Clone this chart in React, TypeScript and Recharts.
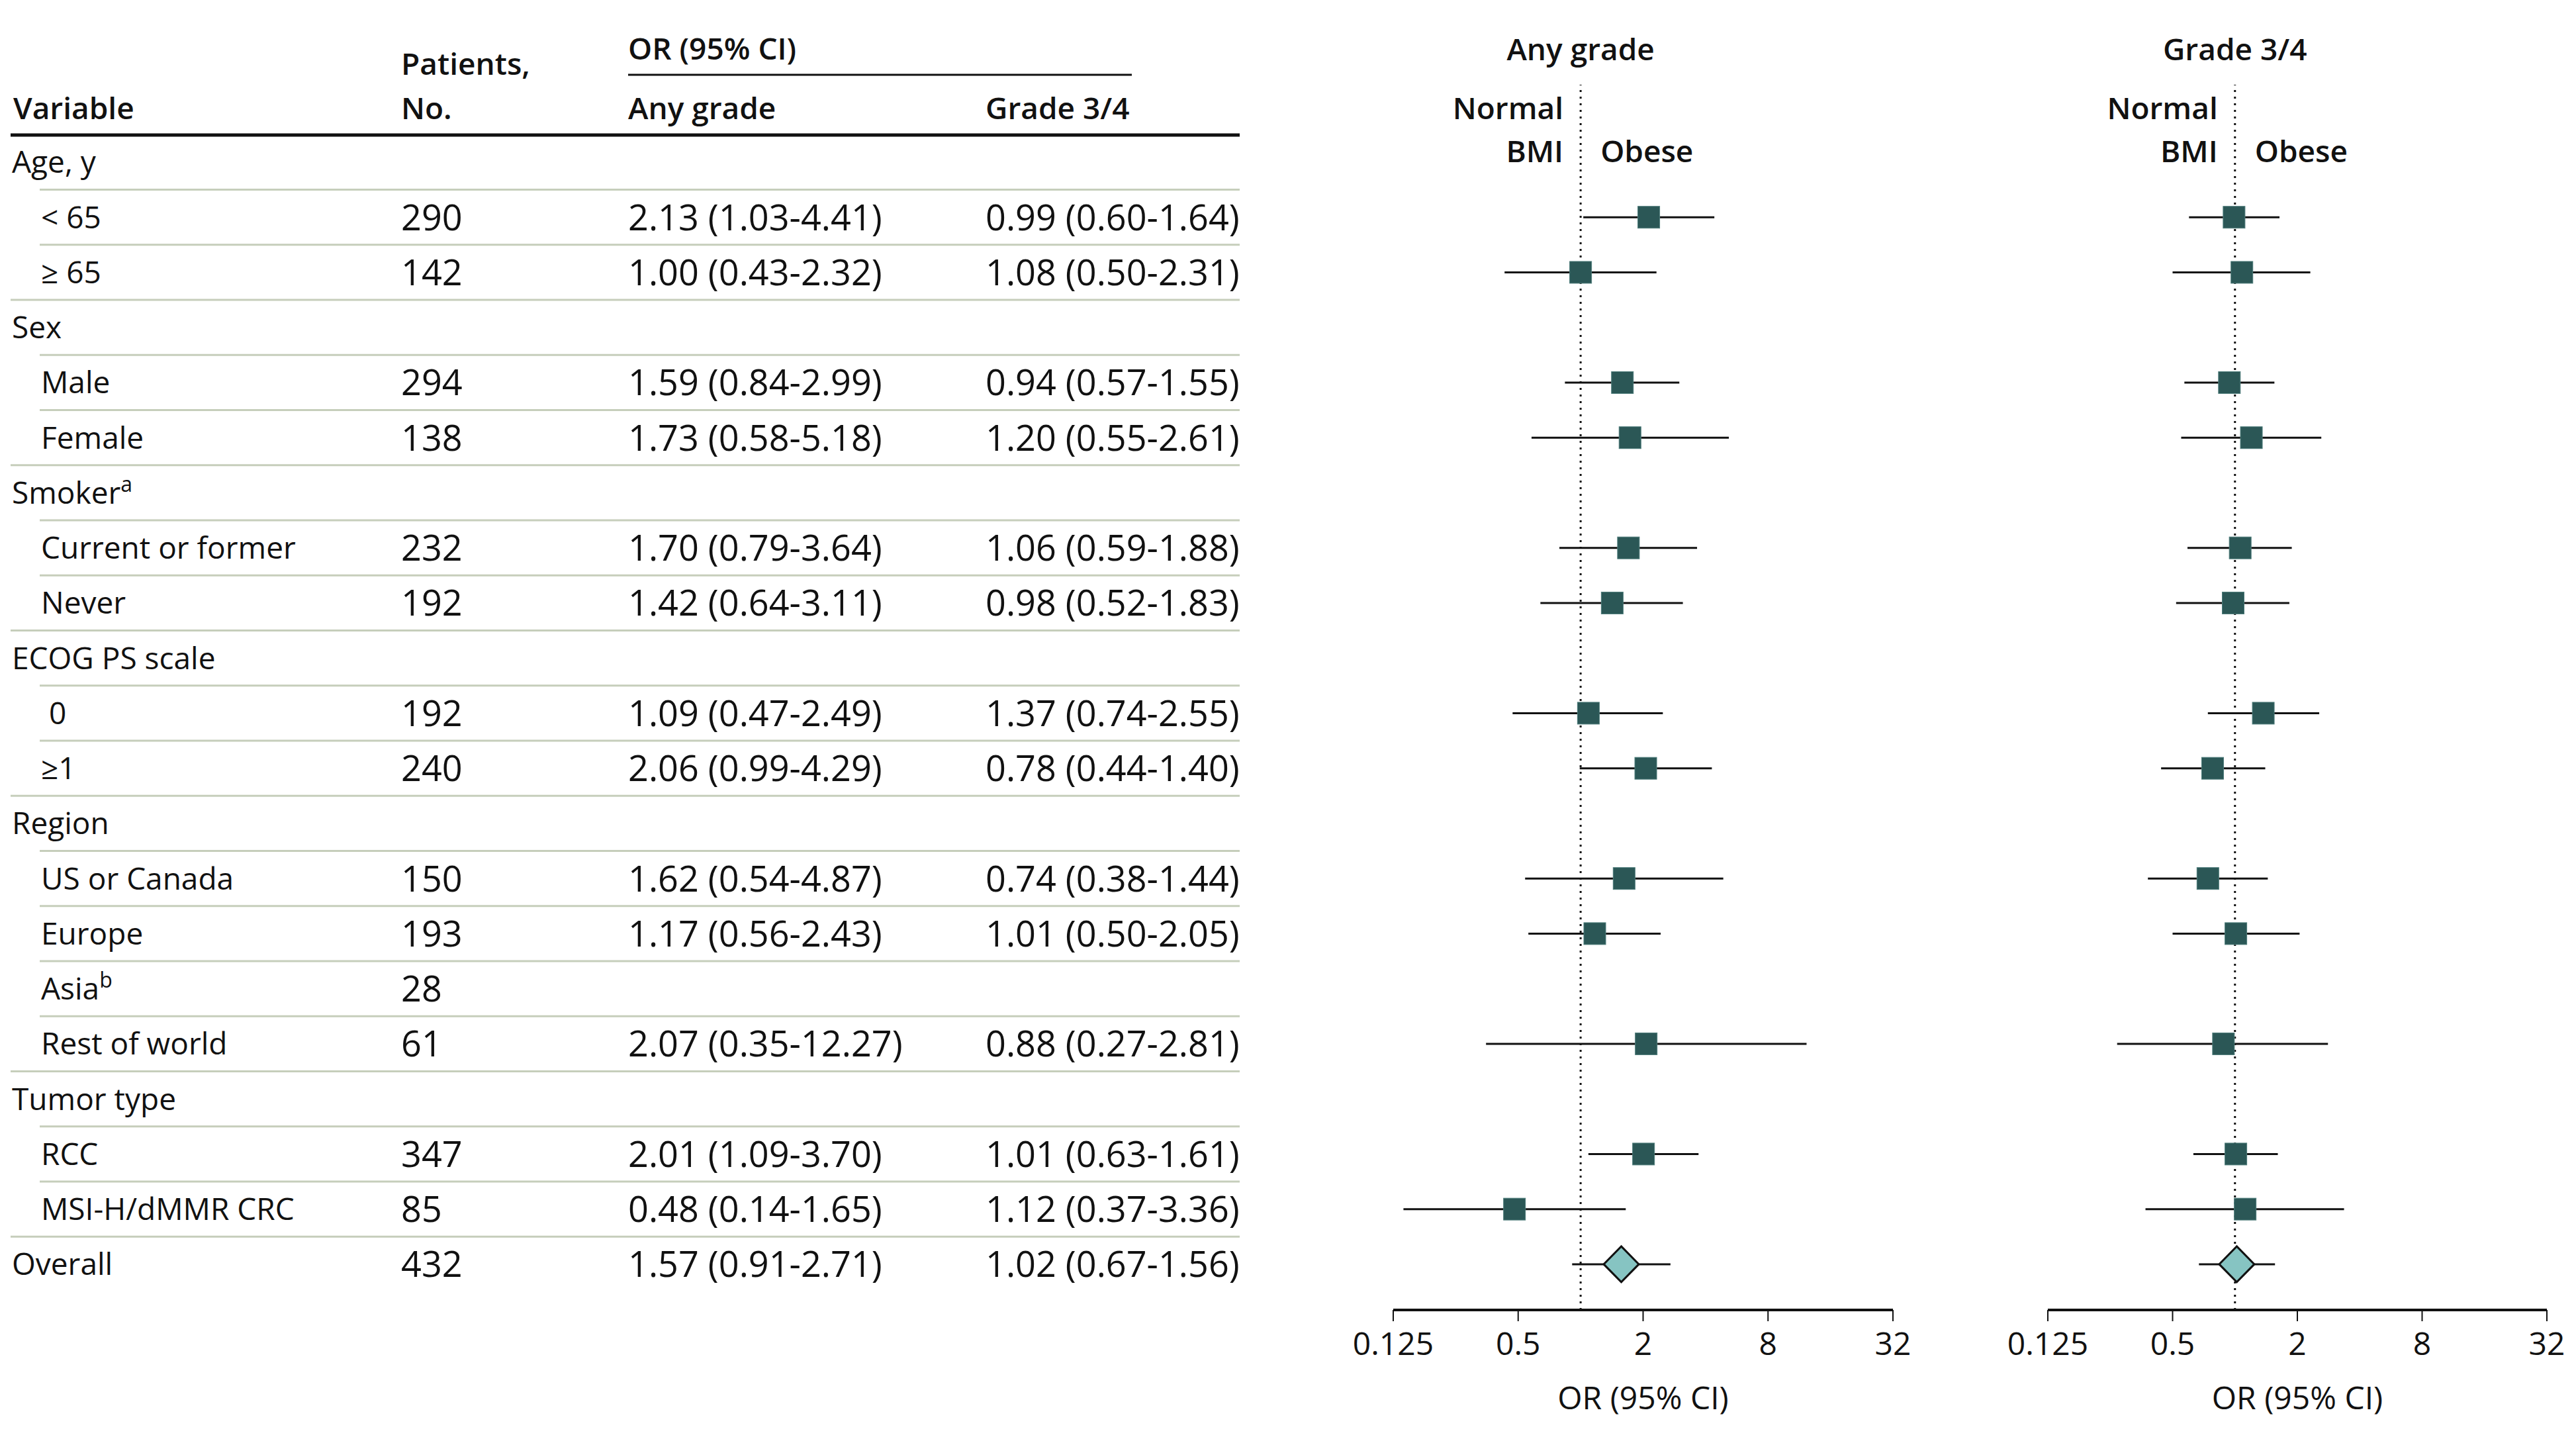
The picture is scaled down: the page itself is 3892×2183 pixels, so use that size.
import React from 'react';
import { ScatterChart, Scatter, XAxis, YAxis, ErrorBar, ReferenceLine } from 'recharts';

// table rows, top to bottom
const rowLabels = ['Age, y', '< 65', '≥ 65', 'Sex', 'Male', 'Female', 'Smoker', 'Current or former', 'Never', 'ECOG PS scale', ' 0', '≥1', 'Region', 'US or Canada', 'Europe', 'Asia', 'Rest of world', 'Tumor type', 'RCC', 'MSI-H/dMMR CRC', 'Overall'];
const rowKinds = ['group', 'item', 'item', 'group', 'item', 'item', 'group', 'item', 'item', 'group', 'item', 'item', 'group', 'item', 'item', 'item', 'item', 'group', 'item', 'item', 'total'];
const footnotes: Record<string, string> = { Smoker: 'a', Asia: 'b' };
const patients = [null, 290, 142, null, 294, 138, null, 232, 192, null, 192, 240, null, 150, 193, 28, 61, null, 347, 85, 432];

// any grade OR (95% CI)
const anyOR = [null, 2.13, 1.0, null, 1.59, 1.73, null, 1.7, 1.42, null, 1.09, 2.06, null, 1.62, 1.17, null, 2.07, null, 2.01, 0.48, 1.57];
const anyLow = [null, 1.03, 0.43, null, 0.84, 0.58, null, 0.79, 0.64, null, 0.47, 0.99, null, 0.54, 0.56, null, 0.35, null, 1.09, 0.14, 0.91];
const anyHigh = [null, 4.41, 2.32, null, 2.99, 5.18, null, 3.64, 3.11, null, 2.49, 4.29, null, 4.87, 2.43, null, 12.27, null, 3.7, 1.65, 2.71];

// grade 3/4 OR (95% CI)
const g34OR = [null, 0.99, 1.08, null, 0.94, 1.2, null, 1.06, 0.98, null, 1.37, 0.78, null, 0.74, 1.01, null, 0.88, null, 1.01, 1.12, 1.02];
const g34Low = [null, 0.6, 0.5, null, 0.57, 0.55, null, 0.59, 0.52, null, 0.74, 0.44, null, 0.38, 0.5, null, 0.27, null, 0.63, 0.37, 0.67];
const g34High = [null, 1.64, 2.31, null, 1.55, 2.61, null, 1.88, 1.83, null, 2.55, 1.4, null, 1.44, 2.05, null, 2.81, null, 1.61, 3.36, 1.56];

const xTicks = [0.125, 0.5, 2, 8, 32];

const FONT = "'Open Sans', 'Noto Sans', sans-serif";
const W = 3892;
const H = 2183;
const PLOT_TOP = 128;
const AXIS_Y = 1979;
const Y_DOMAIN: [number, number] = [-1.405, 20.83];
const HALF_ROW = 41.6;

const fmt = (v: number) => v.toFixed(2);

function buildPoints(or: (number | null)[], lo: (number | null)[], hi: (number | null)[], kind: string) {
  const pts: { x: number; y: number; err: number[] }[] = [];
  or.forEach((v, i) => {
    if (v == null || rowKinds[i] !== kind) return;
    pts.push({ x: v, y: i, err: [v - (lo[i] as number), (hi[i] as number) - v] });
  });
  return pts;
}

const anyItems = buildPoints(anyOR, anyLow, anyHigh, 'item');
const anyTotal = buildPoints(anyOR, anyLow, anyHigh, 'total');
const g34Items = buildPoints(g34OR, g34Low, g34High, 'item');
const g34Total = buildPoints(g34OR, g34Low, g34High, 'total');

const Square = (p: any) => (
  <rect x={p.cx - 16.5} y={p.cy - 16.5} width={33} height={33} fill="#2b5756" stroke="#4d7c7a" strokeWidth={1} />
);
const Diamond = (p: any) => (
  <polygon
    points={`${p.cx},${p.cy - 27} ${p.cx + 26.5},${p.cy} ${p.cx},${p.cy + 27} ${p.cx - 26.5},${p.cy}`}
    fill="#86c4c2"
    stroke="#111"
    strokeWidth={3}
  />
);
const Nothing = () => <g />;

function TableTick(props: any) {
  const { y, payload } = props;
  const i = payload.value as number;
  const kind = rowKinds[i];
  const label = rowLabels[i];
  const sup = footnotes[label];
  const next = rowKinds[i + 1];
  const ci = (or: any[], lo: any[], hi: any[]) =>
    or[i] == null ? null : `${fmt(or[i])} (${fmt(lo[i])}-${fmt(hi[i])})`;
  const a = ci(anyOR, anyLow, anyHigh);
  const g = ci(g34OR, g34Low, g34High);
  return (
    <g fontFamily={FONT} fill="#111">
      <text x={kind === 'item' ? 62 : 18} y={y + 16.5} fontSize={46} style={{ whiteSpace: 'pre' }}>
        {label}
        {sup && (
          <tspan fontSize={32} dy={-18}>
            {sup}
          </tspan>
        )}
      </text>
      {patients[i] != null && (
        <text x={606} y={y + 19.5} fontSize={54}>
          {patients[i]}
        </text>
      )}
      {a && (
        <text x={949} y={y + 19.5} fontSize={54}>
          {a}
        </text>
      )}
      {g && (
        <text x={1489} y={y + 19.5} fontSize={54}>
          {g}
        </text>
      )}
      {next && (
        <line
          x1={next === 'item' ? 60 : 16}
          x2={1873}
          y1={y + HALF_ROW}
          y2={y + HALF_ROW}
          stroke="#c6cebb"
          strokeWidth={3}
        />
      )}
    </g>
  );
}

function ForestPanel({ items, total, width, left, right, table }: any) {
  return (
    <ScatterChart width={width} height={H} margin={{ top: PLOT_TOP, right, bottom: 0, left }}>
      <XAxis
        type="number"
        dataKey="x"
        scale="log"
        domain={[0.125, 32]}
        ticks={xTicks}
        allowDataOverflow
        height={H - AXIS_Y}
        axisLine={{ stroke: '#111', strokeWidth: 4 }}
        tickLine={{ stroke: '#111', strokeWidth: 2 }}
        tickSize={17}
        tickMargin={17}
        tick={{ fontSize: 48, fill: '#111', fontFamily: FONT }}
        label={{ value: 'OR (95% CI)', position: 'insideTop', offset: 116, fontSize: 48, fill: '#111', fontFamily: FONT, fontWeight: 500 }}
      />
      <YAxis
        type="number"
        dataKey="y"
        domain={Y_DOMAIN}
        reversed
        allowDataOverflow
        hide={!table}
        width={table ? 2105 : 0}
        ticks={rowLabels.map((_, i) => i)}
        interval={0}
        axisLine={false}
        tickLine={false}
        tick={table ? (p: any) => <TableTick {...p} /> : false}
      />
      <ReferenceLine x={1} stroke="#111" strokeWidth={3} strokeDasharray="3 7" />
      <Scatter data={items} shape={Square} isAnimationActive={false}>
        <ErrorBar dataKey="err" direction="x" width={0} stroke="#111" strokeWidth={3} />
      </Scatter>
      <Scatter data={total} shape={Diamond} isAnimationActive={false} />
      <Scatter data={total} shape={Nothing} isAnimationActive={false}>
        <ErrorBar dataKey="err" direction="x" width={0} stroke="#111" strokeWidth={3} />
      </Scatter>
    </ScatterChart>
  );
}

// reference line x for each panel (plot left + 3/8 of width, log2 scale 0.125..32)
const P1 = { left: 2105, right: 2860 };
const P2 = { left: 3094, right: 3848 };
const refX = (p: { left: number; right: number }) => p.left + ((p.right - p.left) * 3) / 8;

function PanelHeader({ title, x }: { title: string; x: number }) {
  return (
    <g fontFamily={FONT} fontWeight={600} fontSize={46} fill="#111">
      <text x={x} y={91} textAnchor="middle">{title}</text>
      <text x={x - 26} y={180} textAnchor="end">Normal</text>
      <text x={x - 26} y={245} textAnchor="end">BMI</text>
      <text x={x + 30} y={245}>Obese</text>
    </g>
  );
}

export default function App() {
  return (
    <div style={{ position: 'absolute', left: 0, top: 0, width: W, height: H, background: '#fff', fontFamily: FONT }}>
      <div style={{ position: 'absolute', left: 0, top: 0 }}>
        <ForestPanel items={anyItems} total={anyTotal} width={2900} left={0} right={2900 - P1.right} table />
      </div>
      <div style={{ position: 'absolute', left: P2.left - 60, top: 0 }}>
        <ForestPanel items={g34Items} total={g34Total} width={60 + (P2.right - P2.left) + 44} left={60} right={44} />
      </div>
      <svg width={W} height={H} style={{ position: 'absolute', left: 0, top: 0, pointerEvents: 'none' }}>
        <g fontFamily={FONT} fontWeight={600} fontSize={46} fill="#111">
          <text x={949} y={90}>OR (95% CI)</text>
          <text x={606} y={113}>Patients,</text>
          <text x={20} y={180}>Variable</text>
          <text x={606} y={180}>No.</text>
          <text x={949} y={180}>Any grade</text>
          <text x={1489} y={180}>Grade 3/4</text>
        </g>
        <line x1={949} x2={1710} y1={113} y2={113} stroke="#111" strokeWidth={3} />
        <line x1={16} x2={1873} y1={204} y2={204} stroke="#111" strokeWidth={5} />
        <PanelHeader title="Any grade" x={refX(P1)} />
        <PanelHeader title="Grade 3/4" x={refX(P2)} />
      </svg>
    </div>
  );
}
